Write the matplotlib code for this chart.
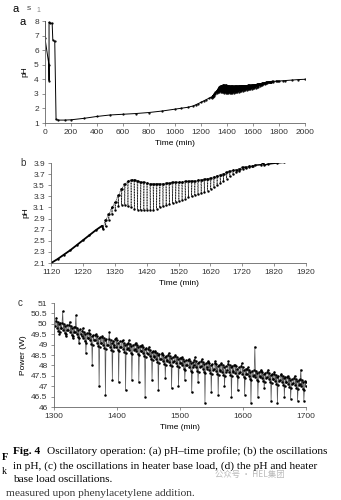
import matplotlib
matplotlib.use("Agg")
import matplotlib.pyplot as plt
import numpy as np

plt.rcParams['font.family'] = ['Liberation Sans', 'DejaVu Sans']

# ---- panel a : slow pH drift outside the oscillation window (1120-1850 taken from panel b)
a_start_t = [0, 30, 31, 31, 36, 55, 60, 75, 85, 100, 150, 200, 300, 400, 500, 600, 700, 800, 900, 1000, 1050, 1100]
a_start_ph = [6.8, 5.0, 3.9, 7.9, 7.85, 7.85, 6.7, 6.6, 1.25, 1.2, 1.2, 1.22, 1.32, 1.45, 1.55, 1.6, 1.65, 1.72, 1.82, 1.95, 2.02, 2.08]
a_end_t = [1850, 1900, 1950, 2000]
a_end_ph = [3.91, 3.95, 3.98, 4.0]

# ---- panel b : pH oscillations
b_rise_t = [1120, 1140, 1160, 1180, 1200, 1220, 1240, 1260, 1280, 1283]
b_rise_ph = [2.1, 2.17, 2.25, 2.33, 2.42, 2.51, 2.6, 2.69, 2.77, 2.72]
b_cycle_t = [1290, 1300, 1310, 1320, 1330, 1340, 1350, 1360, 1370, 1380, 1390, 1400, 1410, 1420,
             1430, 1440, 1450, 1460, 1470, 1480, 1490, 1500, 1510, 1520, 1530, 1540, 1550, 1560,
             1570, 1580, 1590, 1600, 1610, 1620, 1630, 1640, 1650, 1660, 1670, 1680, 1690, 1700,
             1710, 1720, 1730, 1740, 1750]
b_peak = [2.88, 2.98, 3.1, 3.2, 3.32, 3.44, 3.52, 3.57, 3.6, 3.6, 3.58, 3.56, 3.55, 3.54,
          3.53, 3.53, 3.53, 3.53, 3.53, 3.54, 3.54, 3.55, 3.55, 3.56, 3.56, 3.57, 3.57, 3.58,
          3.58, 3.59, 3.6, 3.61, 3.62, 3.63, 3.65, 3.67, 3.69, 3.71, 3.73, 3.75, 3.77, 3.78,
          3.8, 3.82, 3.83, 3.84, 3.85]
b_trough = [2.76, 2.88, 2.98, 3.06, 3.12, 3.15, 3.15, 3.12, 3.1, 3.08, 3.06, 3.05, 3.05, 3.05,
            3.05, 3.06, 3.08, 3.1, 3.12, 3.14, 3.16, 3.18, 3.2, 3.22, 3.24, 3.26, 3.28, 3.3,
            3.32, 3.34, 3.36, 3.38, 3.4, 3.43, 3.46, 3.5, 3.54, 3.58, 3.62, 3.66, 3.7, 3.73,
            3.76, 3.79, 3.81, 3.82, 3.84]
b_tail_t = [1760, 1780, 1785, 1790, 1800, 1830, 1850]
b_tail_ph = [3.86, 3.87, 3.9, 3.86, 3.88, 3.9, 3.91]

# ---- panel c : heater power
c_cycle_t = [1302, 1312, 1323, 1333, 1344, 1354, 1365, 1375, 1386, 1396, 1407, 1417, 1428, 1438,
             1449, 1459, 1470, 1480, 1491, 1501, 1512, 1522, 1533, 1543, 1554, 1564, 1575, 1585,
             1596, 1606, 1617, 1627, 1638, 1648, 1659, 1669, 1680, 1690]
c_base = [49.9, 49.8, 49.7, 49.6, 49.4, 49.3, 49.2, 49.1, 49.0, 49.0, 48.9, 48.85, 48.8, 48.7,
          48.55, 48.4, 48.3, 48.25, 48.2, 48.1, 48.0, 48.0, 47.95, 47.9, 47.85, 47.8, 47.8, 47.75,
          47.7, 47.6, 47.55, 47.5, 47.45, 47.35, 47.3, 47.2, 47.15, 47.1]
c_top = [50.3, 50.6, 50.1, 50.4, 49.8, 49.7, 49.5, 49.4, 49.6, 49.3, 49.2, 49.2, 49.1, 49.0,
         48.9, 48.7, 48.6, 48.6, 48.5, 48.4, 48.3, 48.4, 48.3, 48.2, 48.2, 48.1, 48.2, 48.0,
         48.1, 47.9, 48.9, 47.8, 47.8, 47.7, 47.6, 47.5, 47.5, 47.8]
c_low = [49.5, 49.4, 49.3, 49.1, 48.6, 48.0, 47.0, 46.6, 47.3, 47.2, 46.8, 47.3, 47.2, 46.5,
         47.3, 46.8, 47.4, 46.9, 47.0, 47.3, 46.7, 47.2, 46.2, 46.7, 46.6, 47.0, 46.5, 46.8,
         46.6, 46.2, 46.5, 46.9, 46.3, 46.2, 46.5, 46.4, 46.3, 46.3]
c_end_t = [1700]
c_end_w = [47.2]


def saw(ts, hi, lo):
    # fast dip and recovery, then a flat top until the next cycle
    xs, ys = [], []
    for t, h, l in zip(ts, hi, lo):
        xs += [t, t + 1.2, t + 2.4]
        ys += [h, l, h]
    return xs, ys


def power_trace(ts, base, top, low):
    xs, ys = [], []
    for t, b, h, l in zip(ts, base, top, low):
        xs += [t, t + 1, t + 2, t + 3, t + 4, t + 5, t + 6, t + 6.8, t + 7.6, t + 8.5, t + 9.5]
        ys += [b, b + 0.25, h, b - 0.1, b + 0.2, b - 0.25, b + 0.1, l, b - 0.3, b + 0.15, b - 0.1]
    return xs, ys


def style(ax):
    for s in ['top', 'right']:
        ax.spines[s].set_visible(False)
    for s in ['left', 'bottom']:
        ax.spines[s].set_color('#666666')
        ax.spines[s].set_linewidth(0.6)
    ax.tick_params(labelsize=6, length=2.5, width=0.5, color='#666666', pad=2, labelcolor='#333333')


fig = plt.figure(figsize=(3.41, 5.0), dpi=100)

# panel a
sx, sy = saw(b_cycle_t, b_peak, b_trough)
ax1 = fig.add_axes([0.132, 0.754, 0.762, 0.204])
x_all = a_start_t + b_rise_t[1:] + sx + b_tail_t[1:] + a_end_t[1:]
y_all = a_start_ph + b_rise_ph[1:] + sy + b_tail_ph[1:] + a_end_ph[1:]
ax1.plot(x_all, y_all, color='black', lw=0.7)
ax1.plot(x_all, y_all, ls='none', marker='.', ms=1.2, color='black')
ax1.plot([0, 0], [6.8, 8.0], color='black', lw=0.6)
ax1.set_xlim(0, 2000)
ax1.set_ylim(1, 8)
ax1.set_xticks(range(0, 2001, 200))
ax1.set_yticks(range(1, 9))
ax1.set_ylabel('pH', fontsize=6, labelpad=4)
ax1.set_xlabel('Time (min)', fontsize=6, labelpad=3)
style(ax1)

# panel b
ax2 = fig.add_axes([0.150, 0.474, 0.747, 0.200])
bx = b_rise_t + sx + b_tail_t
by = b_rise_ph + sy + b_tail_ph
ax2.plot(bx, by, color='#222222', lw=0.5, ls=(0, (1.5, 0.8)))
ax2.plot(b_rise_t, b_rise_ph, color='black', lw=1.3)
ax2.plot(b_tail_t, b_tail_ph, color='black', lw=1.0)
ax2.plot(bx, by, ls='none', marker='.', ms=1.5, color='black')
ax2.set_xlim(1120, 1920)
ax2.set_ylim(2.1, 3.9)
ax2.set_xticks(range(1120, 1921, 100))
ax2.set_yticks(np.round(np.arange(2.1, 3.91, 0.2), 1))
ax2.set_ylabel('pH', fontsize=6, labelpad=3)
ax2.set_xlabel('Time (min)', fontsize=6, labelpad=3)
style(ax2)

# panel c
ax3 = fig.add_axes([0.158, 0.186, 0.739, 0.208])
px, py = power_trace(c_cycle_t, c_base, c_top, c_low)
px += c_end_t
py += c_end_w
ax3.plot(px, py, color='#555555', lw=0.5)
ax3.plot(px, py, ls='none', marker='.', ms=1.6, color='black')
ax3.set_xlim(1300, 1700)
ax3.set_ylim(46, 51)
ax3.set_xticks(range(1300, 1701, 100))
ax3.set_yticks(np.arange(46, 51.01, 0.5))
ax3.set_yticklabels(['46', '46.5', '47', '47.5', '48', '48.5', '49', '49.5', '50', '50.5', '51'])
ax3.set_ylabel('Power (W)', fontsize=6, labelpad=3)
ax3.set_xlabel('Time (min)', fontsize=6, labelpad=3)
style(ax3)

# panel letters and scan residue
fig.text(12 / 341, 1 - 9 / 500, 'a', fontsize=8, va='center')
fig.text(27 / 341, 1 - 8 / 500, 's', fontsize=6, va='center', color='#444444')
fig.text(36 / 341, 1 - 11 / 500, '1', fontsize=5, va='center', color='#888888')
fig.text(20 / 341, 1 - 22 / 500, 'a', fontsize=8, va='center')
fig.text(20 / 341, 1 - 163 / 500, 'b', fontsize=7, va='center', color='#333333')
fig.text(18 / 341, 1 - 303 / 500, 'c', fontsize=7, va='center', color='#333333')

# caption
serif = ['Liberation Serif', 'DejaVu Serif']
cap_fs = 8.2
fig.text(13 / 341, 1 - 451 / 500, 'Fig. 4', fontsize=cap_fs, va='center', family=serif, weight='bold')
fig.text(47 / 341, 1 - 451 / 500, 'Oscillatory operation: (a) pH\u2013time profile; (b) the oscillations',
         fontsize=cap_fs, va='center', family=serif)
fig.text(13 / 341, 1 - 466 / 500, 'in pH, (c) the oscillations in heater base load, (d) the pH and heater',
         fontsize=cap_fs, va='center', family=serif)
fig.text(13 / 341, 1 - 479 / 500, 'base load oscillations.', fontsize=cap_fs, va='center', family=serif)
fig.text(6 / 341, 1 - 494 / 500, 'measured upon phenylacetylene addition.', fontsize=cap_fs,
         va='center', family=serif, color='#333333')
fig.text(2 / 341, 1 - 458 / 500, 'F', fontsize=7.5, va='center', family=serif, weight='bold')
fig.text(2 / 341, 1 - 472 / 500, 'k', fontsize=7, va='center', family=serif)
fig.text(215 / 341, 1 - 474 / 500, '公众号 · HEL集团', fontsize=6, va='center', color='#bbbbbb',
         family=['Noto Sans CJK SC', 'DejaVu Sans'])

fig.savefig('out.png', dpi=100)
